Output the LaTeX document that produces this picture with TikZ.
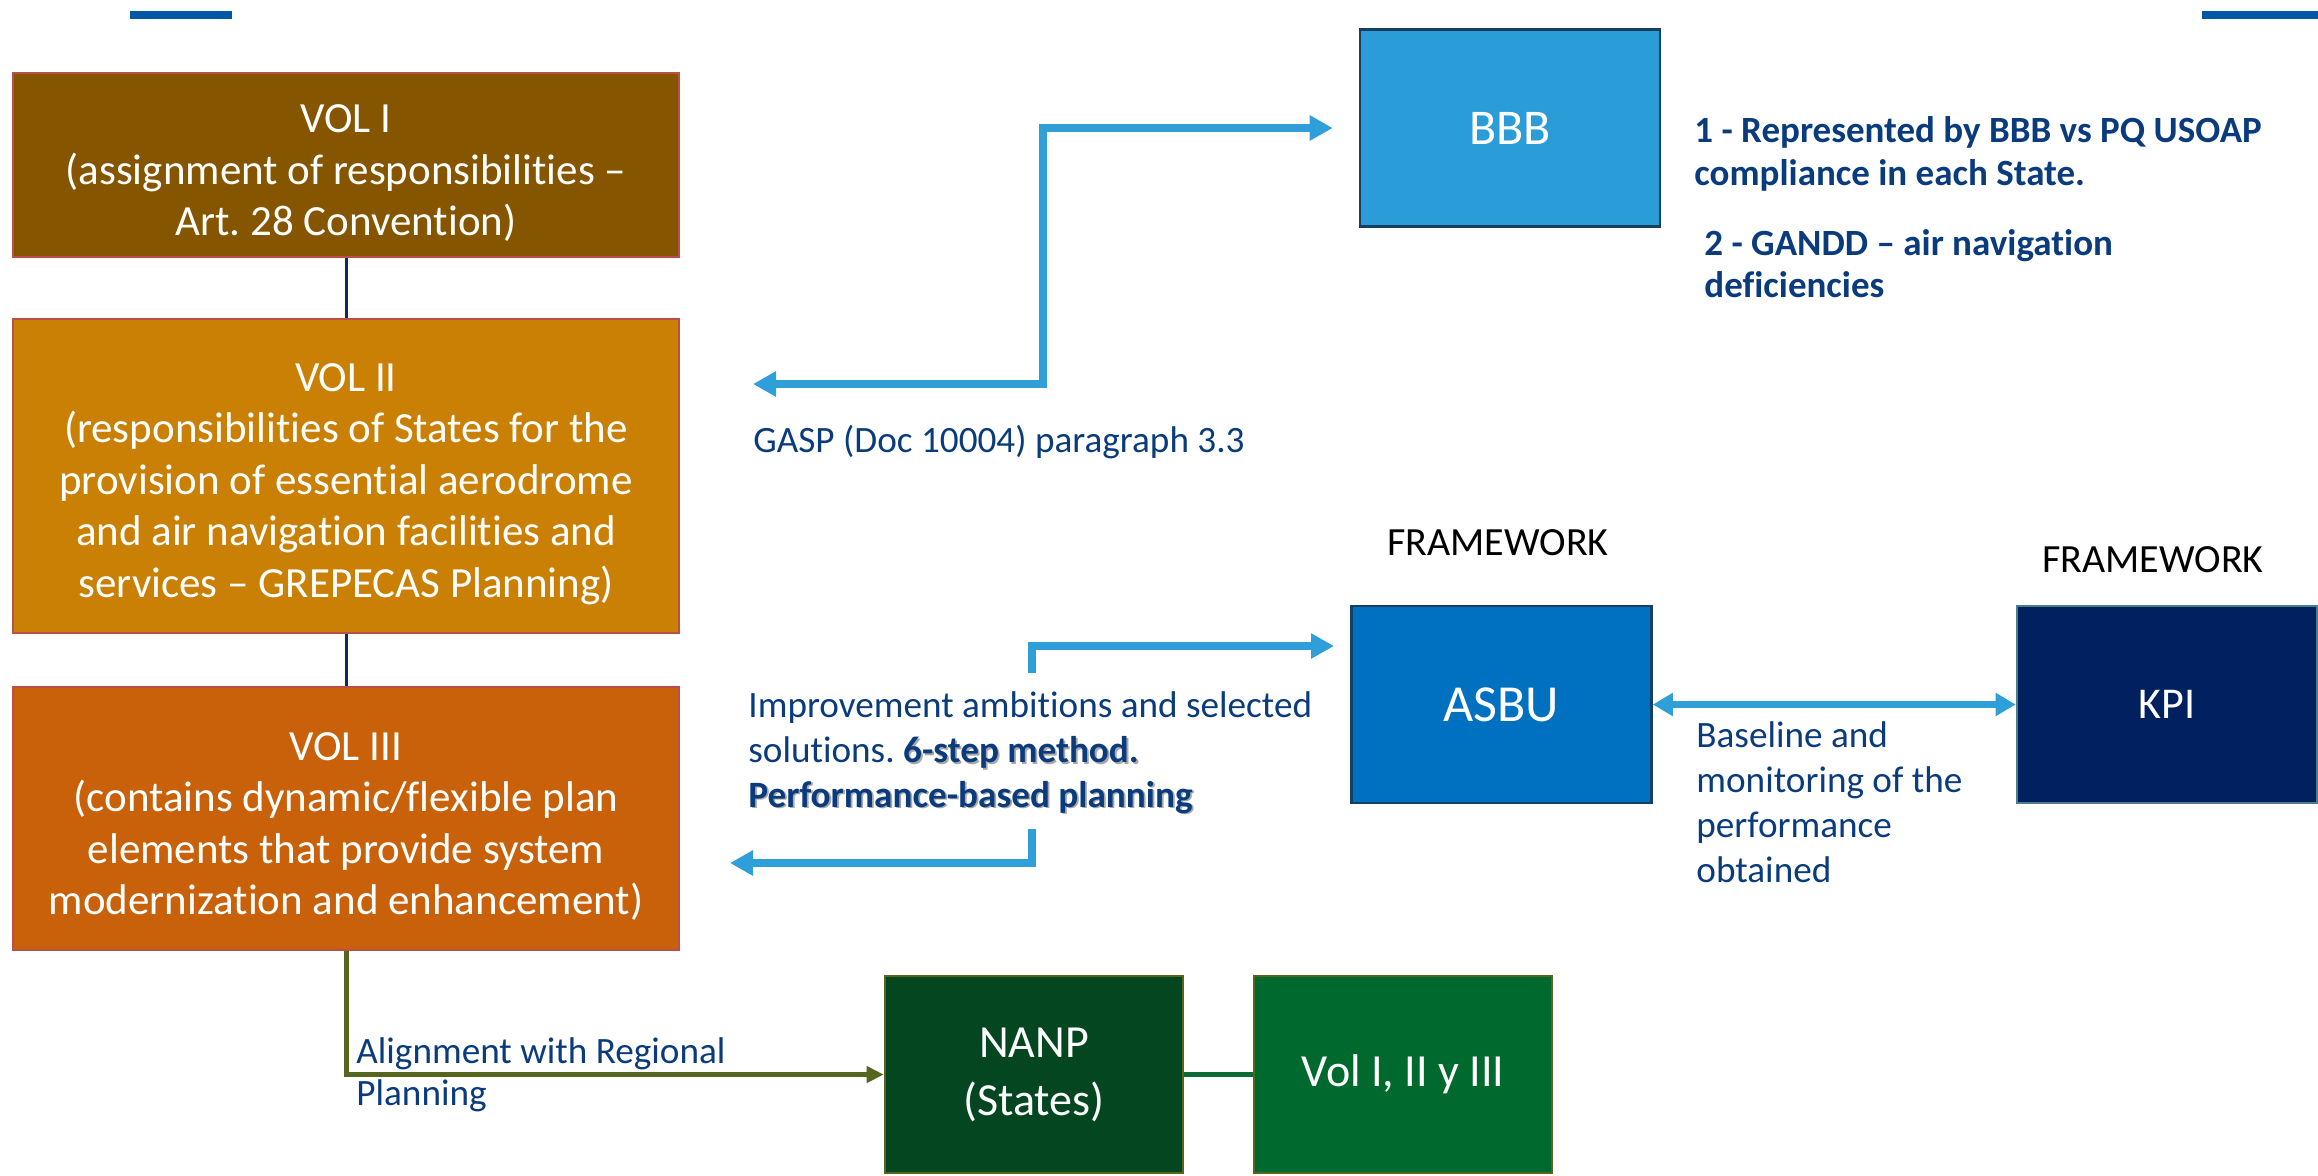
\documentclass[tikz,border=0pt]{standalone}
\usepackage{fontspec}
\setmainfont{Carlito}[Ligatures=NoCommon]
\usetikzlibrary{arrows.meta}
\frenchspacing

\definecolor{volIfill}{HTML}{865500}
\definecolor{volIIfill}{HTML}{CA8004}
\definecolor{volIIIfill}{HTML}{C8610A}
\definecolor{volborder}{HTML}{B9504A}
\definecolor{navyline}{HTML}{0E2A5A}
\definecolor{bbbfill}{HTML}{2A9DD8}
\definecolor{asbufill}{HTML}{0070C0}
\definecolor{kpifill}{HTML}{002060}
\definecolor{boxedge}{HTML}{15405E}
\definecolor{arrowblue}{HTML}{2E9FD9}
\definecolor{nanpfill}{HTML}{03461F}
\definecolor{volsfill}{HTML}{00692D}
\definecolor{olive}{HTML}{55661F}
\definecolor{linkgreen}{HTML}{0B6B35}
\definecolor{textblue}{HTML}{0A3C7D}
\definecolor{barblue}{HTML}{0057A8}
\definecolor{shadowgray}{HTML}{A8A8A8}

% bold words with a soft drop shadow
\newcommand\shadowed[1]{\leavevmode\rlap{\kern0.9pt\raisebox{-0.9pt}{\color{shadowgray}\textbf{#1}}}\textbf{#1}}
% taller first line, so the block sits a little lower in its box
\newcommand\firststrut{\rule{0pt}{22pt}}

\begin{document}
\begin{tikzpicture}[x=0.5pt,y=-0.5pt,
  volbox/.style={draw=volborder, line width=1.2pt, fill=#1, text=white,
    align=center, font=\fontsize{21.5}{25.8}\selectfont,
    minimum width=333pt, inner sep=0pt},
  plainbox/.style={draw=boxedge, line width=1.3pt, fill=#1, text=white,
    minimum width=150pt, minimum height=98.5pt, inner sep=0pt},
  greenbox/.style={draw=olive, line width=1.3pt, fill=#1, text=white,
    align=center, font=\fontsize{23}{29}\selectfont,
    minimum width=149pt, minimum height=98.5pt, inner sep=0pt},
  note/.style={text=textblue, align=left, inner sep=0pt,
    font=\fontsize{18.6}{22.3}\selectfont},
  boldnote/.style={text=textblue, align=left, inner sep=0pt,
    font=\fontsize{18.5}{21.3}\selectfont\bfseries},
  frame/.style={text=black, inner sep=0pt, font=\fontsize{20}{24}\selectfont},
  vlink/.style={draw=navyline, line width=1.5pt},
  bluearrow/.style={draw=arrowblue, line width=4pt,
    -{Triangle[length=11.5pt,width=12pt]}},
]
\useasboundingbox (0,0) rectangle (2318,1175);

% header bars
\fill[barblue] (130,11) rectangle (232,19);
\fill[barblue] (2202,11) rectangle (2318,19);

% the three volumes
\node[volbox=volIfill, minimum height=92pt] (vol1) at (346,165)
  {\firststrut VOL I\\(assignment of responsibilities --\\Art. 28 Convention)};
\node[volbox=volIIfill, minimum height=157pt] (vol2) at (346,476)
  {\firststrut VOL II\\(responsibilities of States for the\\provision of essential aerodrome\\and air navigation facilities and\\services -- GREPECAS Planning)};
\node[volbox=volIIIfill, minimum height=131.5pt] (vol3) at (346,818.5)
  {\firststrut VOL III\\(contains dynamic/flexible plan\\elements that provide system\\modernization and enhancement)};

\draw[vlink] (vol1.south) -- (vol2.north);
\draw[vlink] (vol2.south) -- (vol3.north);

% framework boxes
\node[plainbox=bbbfill, font=\fontsize{25}{30}\selectfont] (bbb) at (1510,128) {BBB};
\node[plainbox=asbufill, font=\fontsize{26}{31}\selectfont] (asbu) at (1501.5,704.5) {ASBU};
\node[plainbox=kpifill, draw=kpifill!60!cyan!40!gray, font=\fontsize{22}{26}\selectfont] (kpi) at (2167,704.5) {KPI};

\node[frame, anchor=base] (fw1) at (1498,555) {FRAMEWORK};
\node[frame, anchor=base] (fw2) at (2153,572) {FRAMEWORK};

% national plan boxes
\node[greenbox=nanpfill] (nanp) at (1034,1074.5) {NANP\\(States)};
\node[greenbox=volsfill] (vols) at (1403,1074.5) {Vol I, II y III};

% GASP link between the volumes and BBB
\coordinate (gaspL) at (753,384);
\coordinate (gaspK) at (1043,384);
\draw[bluearrow, {Triangle[length=11.5pt,width=12pt]}-{Triangle[length=11.5pt,width=12pt]},
  shorten >=13pt]
  (gaspL) -- (gaspK) |- (bbb.west |- 0,128);

% ASBU links
\coordinate (asbuA) at (1032,673);
\coordinate (asbuB) at (1032,829);
\coordinate (asbuC) at (730,863);
\draw[bluearrow, line cap=butt] (asbuA) |- (1334,646);
\draw[bluearrow] (asbuB) |- (asbuC);

% ASBU <-> KPI
\draw[draw=arrowblue, line width=3.5pt,
  {Triangle[length=10pt,width=11pt]}-{Triangle[length=10pt,width=11pt]}]
  (asbu.east) -- (kpi.west);

% VOL III down to the national plan
\draw[draw=olive, line width=2.5pt, -{Triangle[length=8.5pt,width=8pt]}]
  (vol3.south) |- (nanp.west);
\draw[draw=linkgreen, line width=2.5pt] (nanp.east) -- (vols.west);

% notes (anchored on the baseline of their last line)
\node[boldnote, anchor=base west] (n1) at (1694,185)
  {1 - Represented by BBB vs PQ USOAP\\compliance in each State.};
\node[boldnote, anchor=base west, font=\fontsize{18.5}{21}\selectfont\bfseries] (n2) at (1704,297)
  {2 - GANDD -- air navigation\\deficiencies};
\node[note, anchor=base west] (gasp) at (753,452)
  {GASP (Doc 10004) paragraph 3.3};
\node[note, anchor=base west] (impr) at (748,807)
  {Improvement ambitions and selected\\solutions. \shadowed{6-step method.}\\\shadowed{Performance-based planning}};
\node[note, anchor=base west, font=\fontsize{18.6}{22.5}\selectfont] (base) at (1696,882)
  {Baseline and\\monitoring of the\\performance\\obtained};
\node[note, anchor=base west, font=\fontsize{18.6}{21}\selectfont] (align) at (356,1105)
  {Alignment with Regional\\Planning};
\end{tikzpicture}
\end{document}
